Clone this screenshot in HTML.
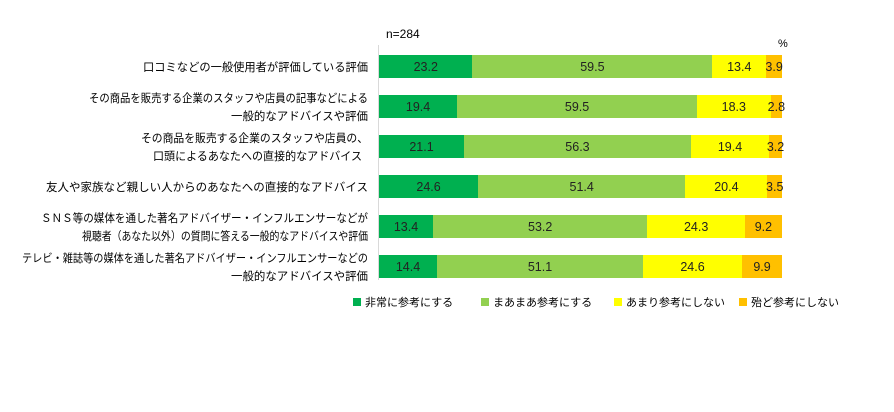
<!DOCTYPE html>
<html><head><meta charset="utf-8"><style>
body{margin:0;width:894px;height:412px;background:#fff;font-family:"Liberation Sans","Noto Sans CJK JP",sans-serif;position:relative;overflow:hidden}
.bar{position:absolute;left:379px;width:403px;height:23px;display:flex}
.bar div{height:100%;display:flex;align-items:center;justify-content:center;font-size:12.5px;color:#222;overflow:visible;white-space:nowrap}
.a{background:#00b050}.b{background:#92d050}.c{background:#ffff00}.d{background:#ffc000}
.leg{position:absolute;top:294px;font-size:11px;display:flex;align-items:center}
.leg span{display:inline-block;width:8px;height:8px;margin-right:4px}
svg{position:absolute;left:0;top:0}
svg text{font-family:"Liberation Sans","Noto Sans CJK JP",sans-serif;font-size:11.5px;text-anchor:end}
</style></head><body>
<div style="position:absolute;left:386px;top:27px;font-size:12px">n=284</div>
<div style="position:absolute;left:778px;top:38px;font-size:11px">%</div>
<div style="position:absolute;left:378px;top:45px;width:1px;height:235px;background:#d9d9d9"></div>
<svg width="894" height="412">
<text x="368" y="71" textLength="225" lengthAdjust="spacingAndGlyphs">口コミなどの一般使用者が評価している評価</text>
<text x="368" y="102" textLength="279" lengthAdjust="spacingAndGlyphs">その商品を販売する企業のスタッフや店員の記事などによる</text>
<text x="368" y="120" textLength="137" lengthAdjust="spacingAndGlyphs">一般的なアドバイスや評価</text>
<text x="368" y="142" textLength="227" lengthAdjust="spacingAndGlyphs">その商品を販売する企業のスタッフや店員の、</text>
<text x="362" y="160" textLength="209" lengthAdjust="spacingAndGlyphs">口頭によるあなたへの直接的なアドバイス</text>
<text x="368" y="191" textLength="322" lengthAdjust="spacingAndGlyphs">友人や家族など親しい人からのあなたへの直接的なアドバイス</text>
<text x="368" y="222" textLength="327" lengthAdjust="spacingAndGlyphs">ＳＮＳ等の媒体を通した著名アドバイザー・インフルエンサーなどが</text>
<text x="368" y="240" textLength="286" lengthAdjust="spacingAndGlyphs">視聴者（あなた以外）の質問に答える一般的なアドバイスや評価</text>
<text x="368" y="262" textLength="346" lengthAdjust="spacingAndGlyphs">テレビ・雑誌等の媒体を通した著名アドバイザー・インフルエンサーなどの</text>
<text x="368" y="280" textLength="137" lengthAdjust="spacingAndGlyphs">一般的なアドバイスや評価</text>
</svg>

<div class="bar" style="top:55px"><div class="a" style="width:23.2%">23.2</div><div class="b" style="width:59.5%">59.5</div><div class="c" style="width:13.4%">13.4</div><div class="d" style="width:3.9%">3.9</div></div>
<div class="bar" style="top:95px"><div class="a" style="width:19.4%">19.4</div><div class="b" style="width:59.5%">59.5</div><div class="c" style="width:18.3%">18.3</div><div class="d" style="width:2.8%">2.8</div></div>
<div class="bar" style="top:135px"><div class="a" style="width:21.1%">21.1</div><div class="b" style="width:56.3%">56.3</div><div class="c" style="width:19.4%">19.4</div><div class="d" style="width:3.2%">3.2</div></div>
<div class="bar" style="top:175px"><div class="a" style="width:24.6%">24.6</div><div class="b" style="width:51.4%">51.4</div><div class="c" style="width:20.4%">20.4</div><div class="d" style="width:3.6%">3.5</div></div>
<div class="bar" style="top:215px"><div class="a" style="width:13.4%">13.4</div><div class="b" style="width:53.2%">53.2</div><div class="c" style="width:24.2%">24.3</div><div class="d" style="width:9.2%">9.2</div></div>
<div class="bar" style="top:255px"><div class="a" style="width:14.4%">14.4</div><div class="b" style="width:51.1%">51.1</div><div class="c" style="width:24.6%">24.6</div><div class="d" style="width:9.9%">9.9</div></div>

<div class="leg" style="left:353px"><span class="a"></span>非常に参考にする</div>
<div class="leg" style="left:481px"><span class="b"></span>まあまあ参考にする</div>
<div class="leg" style="left:614px"><span class="c"></span>あまり参考にしない</div>
<div class="leg" style="left:739px"><span class="d"></span>殆ど参考にしない</div>
</body></html>
